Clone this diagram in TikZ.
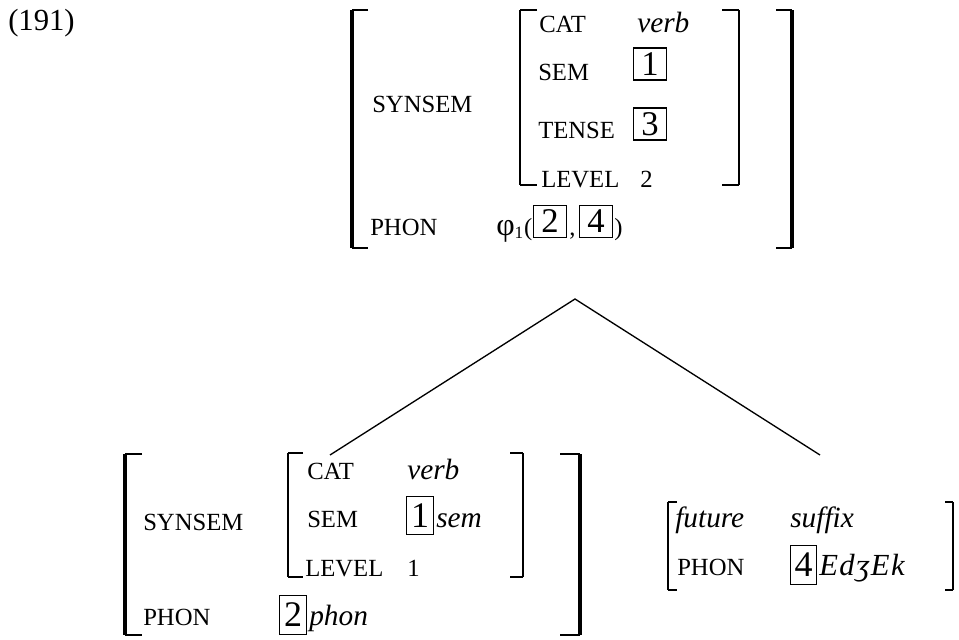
\documentclass[tikz,border=0pt]{standalone}
\usepackage{fontspec}
\setmainfont{Liberation Serif}
\usepackage{tikz}

\begin{document}
\begin{tikzpicture}[x=0.75pt, y=-0.75pt,
    lbl/.style={anchor=base west, inner sep=0pt, font=\fontsize{18.5}{22}\selectfont},
    val/.style={lbl, font=\fontsize{22}{24}\selectfont\itshape},
    tag/.style={draw, line width=0.8pt, inner sep=0pt, minimum width=25pt,
                minimum height=24pt, font=\fontsize{26}{26}\selectfont},
    tagb/.style={tag, minimum width=20pt, minimum height=29pt,
                 font=\fontsize{27}{27}\selectfont},
    branch/.style={line width=1pt}
  ]
  \useasboundingbox (0,0) rectangle (959,639);

  % brackets: x / top / bottom / serif / bar width
  \foreach \x/\t/\b/\d/\w in {352/10/248/16/3pt, 792/10/248/-16/3pt,
      520/10/185/17/2pt, 739/10/185/-17/2pt,
      125/454/635/17/3pt, 580/454/635/-20/3pt,
      288/453/577/15/2pt, 523/453/577/-13/2pt,
      668/502/590/9/1.6pt, 953/502/590/-8/1.6pt}{
    \draw[line width=1pt] (\x+\d,\t) -- (\x,\t) (\x,\b) -- (\x+\d,\b);
    \draw[line width=\w] (\x,\t) -- (\x,\b);
  }

  \node[lbl, font=\fontsize{23}{26}\selectfont] (num) at (8,31) {(191)};

  % mother
  \node[lbl] (ss) at (372,112) {SYNSEM};
  \node[lbl] (ph) at (370,235) {PHON};
  \node[lbl] (cat) at (539,32) {CAT};
  \node[val] (cv) at (637,32) {verb};
  \node[lbl] (sem) at (538,80) {SEM};
  \node[tag] (t1) at (650,64) {1};
  \node[lbl] (tns) at (538,138) {TENSE};
  \node[tag] (t3) at (650,124) {3};
  \node[lbl] (lvl) at (541,187) {LEVEL};
  \node[lbl] (lv) at (640,187) {2};
  \node[lbl] (phi) at (496,235) {{\fontsize{24}{24}\selectfont φ}\textsubscript{1}(};
  \node[tag] (t2) at (550,221.5) {2};
  \node[lbl] (cma) at (569,235) {,};
  \node[tag] (t4) at (596,221.5) {4};
  \node[lbl] (cls) at (614,235) {)};

  % branches
  \coordinate (apex) at (575,299);
  \coordinate (dl) at (330,455);
  \coordinate (dr) at (820,455);
  \draw[branch] (dl) -- (apex) -- (dr);

  % left daughter
  \node[lbl] (ss2) at (143,530) {SYNSEM};
  \node[lbl] (ph2) at (143,625) {PHON};
  \node[lbl] (cat2) at (307,479) {CAT};
  \node[val] (cv2) at (407,479) {verb};
  \node[lbl] (sem2) at (307,527) {SEM};
  \node[tagb] (b1) at (420,515.5) {1};
  \node[val] (sv2) at (436,527) {sem};
  \node[lbl] (lvl2) at (305,576) {LEVEL};
  \node[lbl] (lv2) at (407,576) {1};
  \node[tagb] (b2) at (293,615) {2};
  \node[val] (pv2) at (309,625) {phon};

  % right daughter
  \node[val] (fut) at (675,527) {future};
  \node[val] (suf) at (790,527) {suffix};
  \node[lbl] (ph3) at (677,575) {PHON};
  \node[tagb] (b4) at (803.5,565) {4};
  \node[lbl, font=\fontsize{23}{26}\selectfont\itshape] (ipa) at (819,575)
    {E\kern1pt d\kern1pt ʒ\kern1pt E\kern1pt k};
\end{tikzpicture}
\end{document}
